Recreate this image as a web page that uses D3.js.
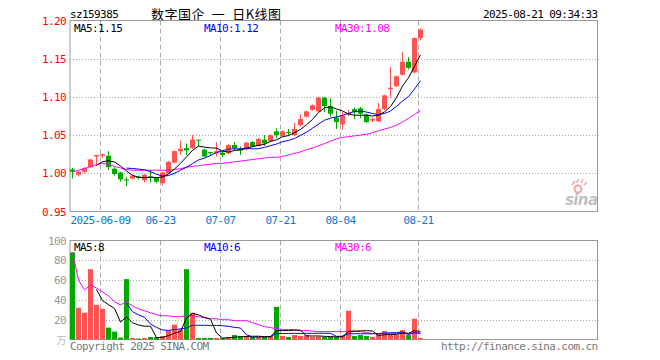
<!DOCTYPE html>
<html>
<head>
<meta charset="utf-8">
<script src="https://cdn.jsdelivr.net/npm/d3@7"></script>
<style>
body { margin: 0; background: #fff; }
text { font-family: "DejaVu Sans Mono", monospace; font-size: 11px; letter-spacing: -0.6px; }
</style>
</head>
<body>
<svg width="660" height="360"></svg>
<script>
var dates = ["2025-05-30","2025-06-03","2025-06-04","2025-06-05","2025-06-06",
  "2025-06-09","2025-06-10","2025-06-11","2025-06-12","2025-06-13",
  "2025-06-16","2025-06-17","2025-06-18","2025-06-19","2025-06-20",
  "2025-06-23","2025-06-24","2025-06-25","2025-06-26","2025-06-27",
  "2025-06-30","2025-07-01","2025-07-02","2025-07-03","2025-07-04",
  "2025-07-07","2025-07-08","2025-07-09","2025-07-10","2025-07-11",
  "2025-07-14","2025-07-15","2025-07-16","2025-07-17","2025-07-18",
  "2025-07-21","2025-07-22","2025-07-23","2025-07-24","2025-07-25",
  "2025-07-28","2025-07-29","2025-07-30","2025-07-31","2025-08-01",
  "2025-08-04","2025-08-05","2025-08-06","2025-08-07","2025-08-08",
  "2025-08-11","2025-08-12","2025-08-13","2025-08-14","2025-08-15",
  "2025-08-18","2025-08-19","2025-08-20","2025-08-21"];

var opens = [1.005,0.998,1.002,1.008,1.022, 1.023,1.023,1.006,1.001,0.992,
  0.993,0.996,0.991,0.996,0.994, 0.987,1.000,1.014,1.029,1.033,
  1.033,1.044,1.031,1.028,1.026, 1.027,1.026,1.037,1.032,1.031,
  1.041,1.036,1.044,1.042,1.055, 1.049,1.054,1.050,1.063,1.074,
  1.083,1.081,1.099,1.088,1.073, 1.064,1.077,1.084,1.085,1.077,
  1.069,1.068,1.084,1.110,1.114, 1.129,1.146,1.132,1.177];
var highs = [1.007,1.003,1.008,1.019,1.024, 1.026,1.029,1.008,1.002,0.995,
  0.998,0.997,0.999,1.004,0.995, 1.002,1.016,1.030,1.043,1.039,
  1.050,1.044,1.032,1.028,1.041, 1.029,1.038,1.041,1.035,1.041,
  1.042,1.046,1.050,1.051,1.059, 1.056,1.058,1.066,1.077,1.082,
  1.090,1.100,1.100,1.098,1.082, 1.080,1.083,1.086,1.087,1.078,
  1.073,1.092,1.103,1.139,1.128, 1.159,1.152,1.178,1.190];
var lows = [0.993,0.996,1.000,1.007,1.010, 1.020,1.004,0.997,0.989,0.983,
  0.992,0.992,0.988,0.988,0.987, 0.984,0.999,1.013,1.024,1.024,
  1.032,1.035,1.021,1.023,1.022, 1.021,1.025,1.030,1.024,1.030,
  1.034,1.035,1.036,1.041,1.046, 1.048,1.050,1.049,1.061,1.073,
  1.082,1.080,1.080,1.074,1.058, 1.057,1.075,1.071,1.072,1.066,
  1.067,1.067,1.083,1.099,1.113, 1.128,1.136,1.131,1.174];
var closes = [1.002,1.002,1.007,1.018,1.024, 1.025,1.008,0.999,0.992,0.991,
  0.997,0.994,0.998,0.994,0.989, 1.001,1.015,1.029,1.032,1.030,
  1.044,1.043,1.022,1.027,1.029, 1.024,1.037,1.033,1.030,1.040,
  1.035,1.045,1.039,1.050,1.050, 1.055,1.053,1.058,1.071,1.081,
  1.089,1.099,1.088,1.078,1.067, 1.076,1.079,1.080,1.078,1.067,
  1.071,1.084,1.102,1.112,1.127, 1.146,1.138,1.177,1.188];
// 万手
var volumes = [88,32,27,71,35, 31,12,8,2,61, 1.5,1,1.5,2.5,2.5, 3.5,9,15,10,71,
  27,1.5,1.5,1.5,1.5, 1.5,2.5,4.5,3.5,3.5, 2.5,2.5,2.5,3.5,33, 3.5,2.5,4.5,3.5,4.5,
  2.5,3,2.5,2.5,2.5, 4,29,3.5,4.5,3.5, 2.5,5.5,8.5,4.5,4.5, 9.5,4.5,21,1.5];
// MA30 needs history before the window
var ma30Price = [1.002,1.004,1.006,1.009,1.011, 1.013,1.012,1.009,1.007,1.005,
  1.004,1.004,1.004,1.004,1.004, 1.004,1.004,1.005,1.006,1.008,
  1.009,1.010,1.011,1.012,1.013, 1.013,1.014,1.015,1.016,1.017,
  1.018,1.019,1.020,1.021,1.021, 1.022,1.024,1.026,1.028,1.031,
  1.033,1.036,1.039,1.042,1.045, 1.047,1.048,1.049,1.050,1.051,
  1.053,1.056,1.058,1.060,1.063, 1.067,1.072,1.077,1.082];
var ma30Vol = [88,60,50,55,52, 48,44,38,35,38, 34,31,29,27,25, 24,24,23,23,24,
  24,23,22,21,21, 20,20,19,19,19, 17,15,13,12,11, 10,10,10,9,9,
  8.5,8,8,8,8, 8,8.5,8.5,8,7, 6,6,6,6,6, 6,6,6,6];

var priceTicks = [1.20, 1.15, 1.10, 1.05, 1.00, 0.95];
var volTicks = [100, 80, 60, 40, 20];
var dateTicks = ["2025-06-09","2025-06-23","2025-07-07","2025-07-21","2025-08-04","2025-08-21"];

var svg = d3.select("svg");
var left = 70, right = 597.5;
var pTop = 20.5, pBot = 211.5, vTop = 240.5, vBot = 339.5;
var RED = "#ff5252", GREEN = "#00a800";

var x = d3.scaleBand()
    .domain(dates)
    .range([70, 70 + 6 * dates.length - 1])
    .paddingInner(1 / 6);
var y = d3.scaleLinear().domain([0.95, 1.20]).range([pBot, pTop]);
var yv = d3.scaleLinear().domain([0, 100]).range([vBot, vTop]);

function mavg(arr, n) {
    return arr.map(function(d, i) {
        if (i < n - 1) return null;
        return d3.mean(arr.slice(i - n + 1, i + 1));
    });
}
var ma5 = mavg(closes, 5), ma10 = mavg(closes, 10);
var vma5 = mavg(volumes, 5), vma10 = mavg(volumes, 10);
function fl(v, k) { var p = Math.pow(10, k); return (Math.floor(v * p + 1e-9) / p).toFixed(k); }

var data = dates.map(function(d, i) {
    return { date: d, o: opens[i], h: highs[i], l: lows[i], c: closes[i], v: volumes[i] };
});
function col(d) { return d.c >= d.o ? RED : GREEN; }

// header
svg.append("text").attr("x", 70).attr("y", 18).text("sz159385");
svg.append("text").attr("x", 151).attr("y", 19)
    .style("font-family", "'Noto Sans CJK SC'").style("font-size", "13px").style("letter-spacing", "0.5px")
    .style("white-space", "pre")
    .text("数字国企  一  日K线图");
svg.append("text").attr("x", right).attr("y", 18).attr("text-anchor", "end").text("2025-08-21 09:34:33");

// grids
var grid = svg.append("g");
grid.selectAll(".hp").data(priceTicks.slice(1, -1)).enter().append("line")
    .attr("x1", left).attr("x2", right + 1)
    .attr("y1", function(d) { return Math.round(y(d)) + 0.5; })
    .attr("y2", function(d) { return Math.round(y(d)) + 0.5; })
    .attr("stroke", "#aaa").attr("stroke-dasharray", "1,2");
grid.selectAll(".hv").data(volTicks.slice(1)).enter().append("line")
    .attr("x1", left).attr("x2", right + 1)
    .attr("y1", function(d) { return Math.round(yv(d)) + 0.5; })
    .attr("y2", function(d) { return Math.round(yv(d)) + 0.5; })
    .attr("stroke", "#aaa").attr("stroke-dasharray", "1,2");
dateTicks.forEach(function(t) {
    var gx = x(t) + 0.5;
    [[pTop, pBot], [vTop, vBot]].forEach(function(r) {
        grid.append("line").attr("x1", gx).attr("x2", gx).attr("y1", r[0]).attr("y2", r[1])
            .attr("stroke", "#aaa").attr("stroke-dasharray", "5,3");
    });
    svg.append("text").attr("x", gx).attr("y", 224).attr("text-anchor", "middle")
        .attr("fill", "#0a78d2").text(t == dateTicks[0] ? t : t.slice(5));
});

// frames
svg.append("rect").attr("x", left).attr("y", pTop).attr("width", right - left).attr("height", pBot - pTop)
    .attr("fill", "none").attr("stroke", "#999");
svg.append("rect").attr("x", left).attr("y", vTop).attr("width", right - left).attr("height", vBot - vTop)
    .attr("fill", "none").attr("stroke", "#999");

// axis labels
svg.selectAll(".pl").data(priceTicks).enter().append("text")
    .attr("x", 66).attr("y", function(d) { return y(d) + 4; })
    .attr("text-anchor", "end").attr("fill", "#f00").text(function(d) { return d.toFixed(2); });
svg.selectAll(".vl").data(volTicks).enter().append("text")
    .attr("x", 66).attr("y", function(d) { return yv(d) + 4; })
    .attr("text-anchor", "end").attr("fill", "#999").text(function(d) { return d; });
svg.append("text").attr("x", 66).attr("y", 344).attr("text-anchor", "end").attr("fill", "#bbb")
    .style("font-family", "'Noto Sans CJK SC'").style("font-size", "10px").text("万");

// sina watermark
var wm = svg.append("g").attr("opacity", 0.45);
wm.append("circle").attr("cx", 578).attr("cy", 189).attr("r", 3.5).attr("fill", "none").attr("stroke", "#e33").attr("stroke-width", 2);
wm.append("path").attr("d", "M572,185 L575,181 M577,183 L578,179 M581,183 L583,179 M584,185 L587,182").attr("stroke", "#e33").attr("stroke-width", 1.5);
wm.append("text").attr("x", 565).attr("y", 205).attr("fill", "#777")
    .style("font-family", "'DejaVu Sans'").style("font-size", "15px").style("font-weight", "bold").style("font-style", "italic")
    .text("sina");

// candles
var bw = x.bandwidth();
var candle = svg.append("g").selectAll("g").data(data).enter().append("g");
candle.append("line")
    .attr("x1", function(d) { return x(d.date) + Math.floor(bw / 2) + 0.5; })
    .attr("x2", function(d) { return x(d.date) + Math.floor(bw / 2) + 0.5; })
    .attr("y1", function(d) { return y(d.h); })
    .attr("y2", function(d) { return y(d.l); })
    .attr("stroke", col);
candle.append("rect")
    .attr("x", function(d) { return x(d.date); })
    .attr("width", bw)
    .attr("y", function(d) { return y(Math.max(d.o, d.c)); })
    .attr("height", function(d) { return Math.max(1, Math.abs(y(d.o) - y(d.c))); })
    .attr("fill", col);

// volume bars
svg.append("g").selectAll("rect").data(data).enter().append("rect")
    .attr("x", function(d) { return x(d.date); })
    .attr("width", bw)
    .attr("y", function(d) { return yv(d.v); })
    .attr("height", function(d) { return vBot - yv(d.v); })
    .attr("fill", col);

// moving averages
function drawLine(vals, scale, color) {
    var line = d3.line()
        .defined(function(d) { return d != null; })
        .x(function(d, i) { return x(dates[i]) + bw / 2; })
        .y(function(d) { return scale(d); });
    svg.append("path").datum(vals).attr("d", line)
        .attr("fill", "none").attr("stroke", color).attr("stroke-width", 1);
}
drawLine(ma30Price, y, "#f0f");
drawLine(ma10, y, "#00f");
drawLine(ma5, y, "#000");
drawLine(ma30Vol, yv, "#f0f");
drawLine(vma10, yv, "#00f");
drawLine(vma5, yv, "#000");

// legends
var last = dates.length - 1;
svg.append("text").attr("x", 74).attr("y", 32).attr("fill", "#000").text("MA5:" + fl(ma5[last], 2));
svg.append("text").attr("x", 204).attr("y", 32).attr("fill", "#00f").text("MA10:" + fl(ma10[last], 2));
svg.append("text").attr("x", 335).attr("y", 32).attr("fill", "#f0f").text("MA30:" + fl(ma30Price[last], 2));
svg.append("text").attr("x", 74).attr("y", 251).attr("fill", "#000").text("MA5:" + fl(vma5[last], 0));
svg.append("text").attr("x", 204).attr("y", 251).attr("fill", "#00f").text("MA10:" + fl(vma10[last], 0));
svg.append("text").attr("x", 335).attr("y", 251).attr("fill", "#f0f").text("MA30:" + fl(ma30Vol[last], 0));

// footer
svg.append("text").attr("x", 70).attr("y", 350).attr("fill", "#777").text("Copyright 2025 SINA.COM");
svg.append("text").attr("x", right).attr("y", 350).attr("text-anchor", "end").attr("fill", "#777").text("http://finance.sina.com.cn");
</script>
</body>
</html>
